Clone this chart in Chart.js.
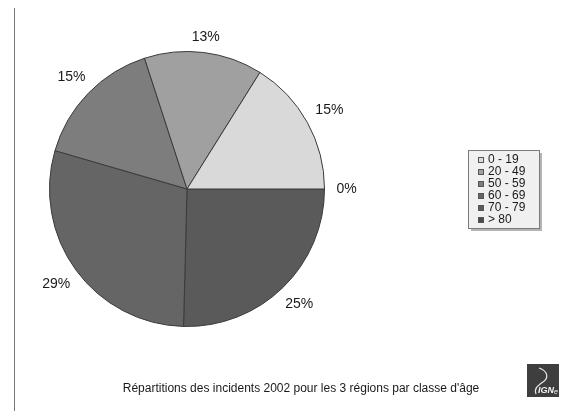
<!DOCTYPE html>
<html>
<head>
<meta charset="utf-8">
<script src="https://cdn.jsdelivr.net/npm/chart.js@4"></script>
<style>
  html, body { margin: 0; padding: 0; background: #ffffff; }
  #wrap { position: relative; width: 585px; height: 417px; }
</style>
</head>
<body>
<div id="wrap"><canvas id="pieChart" width="585" height="417"></canvas></div>
<script>
// Age classes, in legend order
const ageClasses = ['0 - 19', '20 - 49', '50 - 59', '60 - 69', '70 - 79', '> 80'];
// Slice shares
const shares = [16.1, 13.9, 15.5, 29.1, 25.4, 0];
// Percent labels as printed on the picture
const percentLabels = ['15%', '13%', '15%', '29%', '25%', '0%'];
const sliceColors = ['#d9d9d9', '#a0a0a0', '#7d7d7d', '#656565', '#5a5a5a', '#4a4a4a'];
const chartTitle = "Répartitions des incidents 2002 pour les 3 régions par classe d'âge";

const FONT = '"Liberation Sans", Arial, sans-serif';

// the original goes counter-clockwise from 3 o'clock, Chart.js goes clockwise
const rev = arr => arr.slice().reverse();

const decorPlugin = {
  id: 'decor',
  afterDraw(chart) {
    const ctx = chart.ctx;
    const meta = chart.getDatasetMeta(0);
    const labels = rev(percentLabels);

    // percentage labels outside the pie
    ctx.save();
    ctx.font = '14px ' + FONT;
    ctx.fillStyle = '#1a1a1a';
    ctx.textAlign = 'center';
    ctx.textBaseline = 'middle';
    meta.data.forEach((arc, i) => {
      const p = arc.getProps(['x', 'y', 'startAngle', 'endAngle', 'outerRadius'], true);
      const mid = (p.startAngle + p.endAngle) / 2;
      const w = ctx.measureText(labels[i]).width;
      const c = Math.cos(mid), s = Math.sin(mid);
      const d = p.outerRadius + 12 + Math.abs(c) * w / 2 + Math.abs(s) * 2;
      ctx.fillText(labels[i], p.x + c * d, p.y + s * d);
    });
    ctx.restore();

    // legend box
    ctx.save();
    const bx = 468, by = 150, bw = 71, bh = 78;
    ctx.fillStyle = '#b4b4b4';
    ctx.fillRect(bx + 3, by + 3, bw, bh);
    ctx.fillStyle = '#f0f0f0';
    ctx.fillRect(bx, by, bw, bh);
    ctx.strokeStyle = '#7a7a7a';
    ctx.lineWidth = 1;
    ctx.strokeRect(bx + 0.5, by + 0.5, bw, bh);
    ctx.font = '12px ' + FONT;
    ctx.textBaseline = 'middle';
    ageClasses.forEach((name, i) => {
      const y = by + 9.5 + i * 12;
      ctx.fillStyle = sliceColors[i];
      ctx.fillRect(478, Math.round(y) - 3, 6, 6);
      ctx.strokeStyle = '#555555';
      ctx.strokeRect(478.5, Math.round(y) - 2.5, 5, 5);
      ctx.fillStyle = '#1a1a1a';
      ctx.fillText(name, 488, y);
    });
    ctx.restore();

    // title under the chart
    ctx.save();
    ctx.font = '12px ' + FONT;
    ctx.fillStyle = '#1a1a1a';
    ctx.textAlign = 'center';
    ctx.textBaseline = 'middle';
    ctx.fillText(chartTitle, 301, 389);
    ctx.restore();

    // left rule
    ctx.save();
    ctx.strokeStyle = '#777777';
    ctx.lineWidth = 1;
    ctx.beginPath();
    ctx.moveTo(14.5, 8);
    ctx.lineTo(14.5, 411);
    ctx.stroke();
    ctx.restore();

    // IGN logo
    ctx.save();
    ctx.fillStyle = '#3e3e3e';
    ctx.fillRect(527, 364, 32, 33);
    ctx.strokeStyle = '#e8e8e8';
    ctx.lineWidth = 1.2;
    ctx.beginPath();
    ctx.moveTo(539, 368);
    ctx.bezierCurveTo(548, 371, 549, 378, 543, 382);
    ctx.bezierCurveTo(537, 386, 534, 389, 536, 394);
    ctx.stroke();
    ctx.fillStyle = '#f4f4f4';
    ctx.font = 'italic bold 9px ' + FONT;
    ctx.textBaseline = 'alphabetic';
    ctx.fillText('IGN', 538, 393);
    ctx.font = 'italic 7px ' + FONT;
    ctx.fillText('e', 554, 394);
    ctx.restore();
  }
};

const ctx = document.getElementById('pieChart').getContext('2d');
const pieChart = new Chart(ctx, {
  type: 'pie',
  data: {
    labels: rev(ageClasses),
    datasets: [{
      data: rev(shares),
      backgroundColor: rev(sliceColors),
      borderColor: '#3a3a3a',
      borderWidth: 1
    }]
  },
  options: {
    responsive: false,
    animation: false,
    rotation: 90,
    layout: {
      padding: { left: 49, top: 51, right: 260, bottom: 90 }
    },
    plugins: {
      legend: { display: false },
      tooltip: { enabled: false }
    }
  },
  plugins: [decorPlugin]
});
</script>
</body>
</html>
